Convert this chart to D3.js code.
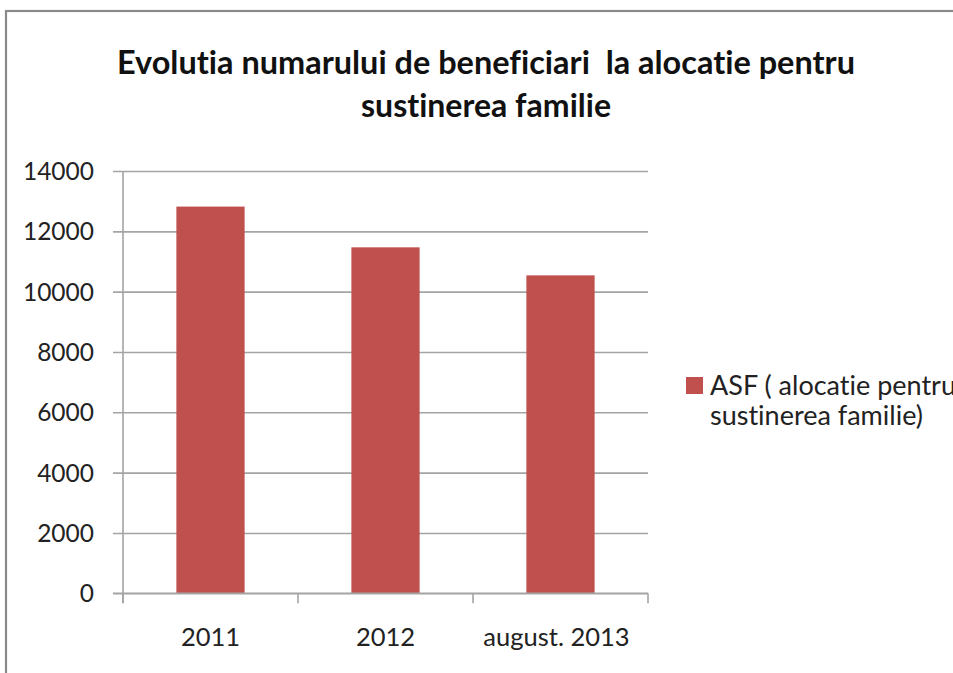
<!DOCTYPE html>
<html>
<head>
<meta charset="utf-8">
<script src="https://cdn.jsdelivr.net/npm/d3@7"></script>
<style>
  html, body { margin: 0; padding: 0; background: #fff; }
  svg { display: block; font-family: Lato, "Open Sans", sans-serif; font-variant-ligatures: none; }
  text { white-space: pre; }
</style>
</head>
<body>
<svg id="chart" width="953" height="673"></svg>
<script>
// data
const categories = ["2011", "2012", "august. 2013"]
const values = [12820, 11470, 10540]
const yTicks = [0, 2000, 4000, 6000, 8000, 10000, 12000, 14000]
const titleLines = ["Evolutia numarului de beneficiari  la alocatie pentru", "sustinerea familie"]
const legendLines = ["ASF ( alocatie pentru", "sustinerea familie)"]

const svg = d3.select("#chart")
const plot = {left: 123, right: 648, top: 171, bottom: 593.3}

// outer frame, cut off on the right and bottom like the screenshot
svg.append("rect").attr("x", 6).attr("y", 11).attr("width", 1200).attr("height", 1200)
	.attr("fill", "none").attr("stroke", "#8a8a8a").attr("stroke-width", 2.2)

const x = d3.scaleBand().domain(categories).range([plot.left, plot.right])
	.paddingInner(0.61).paddingOuter(0.305)
const y = d3.scaleLinear().domain([0, 14000]).range([plot.bottom, plot.top])

// gridlines + y ticks
const yAxis = d3.axisLeft(y).tickValues(yTicks).tickSize(-(plot.right - plot.left)).tickFormat("")
const gy = svg.append("g").attr("transform", `translate(${plot.left},0)`).call(yAxis)
gy.select(".domain").remove()
gy.selectAll(".tick line").attr("x1", -10).attr("stroke", "#a4a4a4").attr("stroke-width", 1.6)

// y tick labels
svg.append("g").selectAll("text").data(yTicks).join("text")
	.attr("x", 94).attr("y", d => y(d) + 9)
	.attr("text-anchor", "end").attr("font-size", 24.5).attr("fill", "#222")
	.text(d => d)

// y axis line (runs a bit below zero, like the x ticks)
svg.append("line").attr("x1", plot.left).attr("x2", plot.left)
	.attr("y1", plot.top).attr("y2", plot.bottom + 10)
	.attr("stroke", "#a4a4a4").attr("stroke-width", 1.6)

// bars
svg.append("g").selectAll("rect").data(values).join("rect")
	.attr("x", (d, i) => x(categories[i]))
	.attr("y", d => y(d))
	.attr("width", x.bandwidth())
	.attr("height", d => y(0) - y(d))
	.attr("fill", "#c0504d")

// x axis: baseline + ticks between categories
const xAxisLine = svg.append("g")
xAxisLine.append("line").attr("x1", plot.left - 10).attr("x2", plot.right)
	.attr("y1", y(0)).attr("y2", y(0)).attr("stroke", "#a4a4a4").attr("stroke-width", 1.6)
const bounds = [plot.left].concat(categories.map((c, i) => plot.left + x.step() * (i + 1)))
xAxisLine.selectAll("line.tk").data(bounds).join("line").attr("class", "tk")
	.attr("x1", d => d).attr("x2", d => d).attr("y1", y(0)).attr("y2", y(0) + 10)
	.attr("stroke", "#a4a4a4").attr("stroke-width", 1.6)

svg.append("g").selectAll("text").data(categories).join("text")
	.attr("x", d => x(d) + x.bandwidth() / 2 - (d.length > 4 ? 4 : 0))
	.attr("y", 646)
	.attr("text-anchor", "middle").attr("font-size", 25.5).attr("fill", "#222")
	.text(d => d)

// title
svg.append("g").selectAll("text").data(titleLines).join("text")
	.attr("x", 486).attr("y", (d, i) => 74 + i * 42.5)
	.attr("text-anchor", "middle").attr("font-size", 33).attr("font-weight", "bold").attr("fill", "#111")
	.attr("textLength", (d, i) => i === 0 ? 738 : 250).attr("lengthAdjust", "spacingAndGlyphs")
	.text(d => d)

// legend
svg.append("rect").attr("x", 686).attr("y", 377).attr("width", 17).attr("height", 17).attr("fill", "#c0504d")
svg.append("g").selectAll("text").data(legendLines).join("text")
	.attr("x", 710).attr("y", (d, i) => 395 + i * 30)
	.attr("font-size", 26).attr("fill", "#222")
	.attr("textLength", (d, i) => i === 0 ? 246 : 213).attr("lengthAdjust", "spacingAndGlyphs")
	.text(d => d)
</script>
</body>
</html>
